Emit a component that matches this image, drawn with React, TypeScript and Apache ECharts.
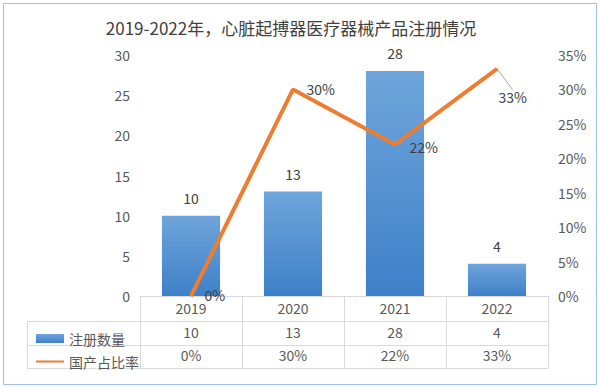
import React, { useEffect, useRef } from "react";
import * as echarts from "echarts";

const years = ["2019", "2020", "2021", "2022"];
const counts = [10, 13, 28, 4];
const rates = [0, 30, 22, 33];
const leftTicks = { min: 0, max: 30, interval: 5 };
const rightTicks = { min: 0, max: 35, interval: 5 };
const seriesNames = ["注册数量", "国产占比率"];
const titleText = "2019-2022年，心脏起搏器医疗器械产品注册情况";

const FONT = "'Noto Sans CJK SC', 'Noto Sans', sans-serif";
const GREY = "#595959";
const LINE = "#D9D9D9";

export default function App() {
  const ref = useRef<HTMLDivElement>(null);
  useEffect(() => {
    document.body.style.margin = "0";
    const chart = echarts.init(ref.current!, null, { renderer: "svg" });
    const gridL = 140, gridR = 52, gridT = 55, gridB = 92;
    const axisY = 388 - gridB;
    const tableRight = 600 - gridR;
    const rowYs = [axisY + 25, axisY + 49, axisY + 72];
    const graphics: any[] = [
      {
        type: "text",
        x: 291,
        y: 27,
        style: {
          text: titleText,
          fill: "#404040",
          font: `17px ${FONT}`,
          textAlign: "center",
          textVerticalAlign: "middle",
        },
      },
      {
        type: "rect",
        shape: { x: 3.5, y: 3.5, width: 593, height: 381 },
        style: { fill: "none", stroke: "#9DC3E6", lineWidth: 1 },
        silent: true,
      },
      ...rowYs.map((y) => ({
        type: "line",
        shape: { x1: 27, y1: y + 0.5, x2: tableRight, y2: y + 0.5 },
        style: { stroke: LINE, lineWidth: 1 },
        silent: true,
      })),
      {
        type: "line",
        shape: { x1: 27.5, y1: rowYs[0], x2: 27.5, y2: rowYs[2] },
        style: { stroke: LINE, lineWidth: 1 },
        silent: true,
      },
    ];

    const option: any = {
      animation: false,
      textStyle: { fontFamily: FONT },
      grid: { left: gridL, right: gridR, top: gridT, bottom: gridB },
      legend: {
        orient: "vertical",
        left: 30,
        top: 325,
        itemGap: 6,
        itemWidth: 28,
        itemHeight: 9,
        textStyle: { color: GREY, fontSize: 14, lineHeight: 17 },
        data: [
          { name: seriesNames[0], icon: "rect" },
          { name: seriesNames[1], itemStyle: { opacity: 0 } },
        ],
      },
      xAxis: [
        {
          type: "category",
          data: years,
          position: "bottom",
          axisLine: { show: true, lineStyle: { color: LINE } },
          axisTick: { show: true, length: 72, lineStyle: { color: LINE } },
          axisLabel: { color: GREY, fontSize: 14, margin: 5 },
        },
        {
          type: "category",
          data: counts.map((c) => String(c)),
          position: "bottom",
          offset: 24,
          axisLine: { show: false },
          axisTick: { show: false },
          axisLabel: { color: GREY, fontSize: 14, margin: 5 },
        },
        {
          type: "category",
          data: rates.map((r) => r + "%"),
          position: "bottom",
          offset: 47,
          axisLine: { show: false },
          axisTick: { show: false },
          axisLabel: { color: GREY, fontSize: 14, margin: 5 },
        },
      ],
      yAxis: [
        {
          type: "value",
          ...leftTicks,
          axisLine: { show: false },
          axisTick: { show: false },
          splitLine: { show: false },
          axisLabel: { color: GREY, fontSize: 14, margin: 10 },
        },
        {
          type: "value",
          ...rightTicks,
          position: "right",
          axisLine: { show: false },
          axisTick: { show: false },
          splitLine: { show: false },
          axisLabel: { color: GREY, fontSize: 14, margin: 10, formatter: "{value}%" },
        },
      ],
      series: [
        {
          name: seriesNames[0],
          type: "bar",
          xAxisIndex: 0,
          yAxisIndex: 0,
          barWidth: "57%",
          data: counts,
          itemStyle: {
            color: new echarts.graphic.LinearGradient(0, 0, 0, 1, [
              { offset: 0, color: "#6FA5DB" },
              { offset: 1, color: "#3E80C8" },
            ]),
          },
          label: {
            show: true,
            position: "top",
            distance: 11,
            color: "#404040",
            fontSize: 14,
          },
        },
        {
          name: seriesNames[1],
          type: "line",
          xAxisIndex: 0,
          yAxisIndex: 1,
          symbol: "circle",
          symbolSize: 1,
          showSymbol: true,
          data: rates.map((r, i) =>
            i === rates.length - 1
              ? { value: r, labelLine: { show: true, lineStyle: { color: "#A6A6A6", width: 1 } } }
              : { value: r }
          ),
          lineStyle: { color: "#ED7D31", width: 4 },
          itemStyle: { color: "#ED7D31" },
          label: {
            show: true,
            position: "right",
            distance: 13,
            color: "#404040",
            fontSize: 14,
            formatter: "{c}%",
          },
          labelLayout: (p: any) =>
            p.dataIndex === rates.length - 1
              ? { dx: -12, dy: 28 }
              : p.dataIndex === 2
              ? { dx: 1, dy: 2 }
              : p.dataIndex === 0
              ? { dy: -1 }
              : {},
        },
      ],
      graphic: graphics,
    };
    chart.setOption(option);
    return () => chart.dispose();
  }, []);
  return <div ref={ref} style={{ width: 600, height: 388 }} />;
}
